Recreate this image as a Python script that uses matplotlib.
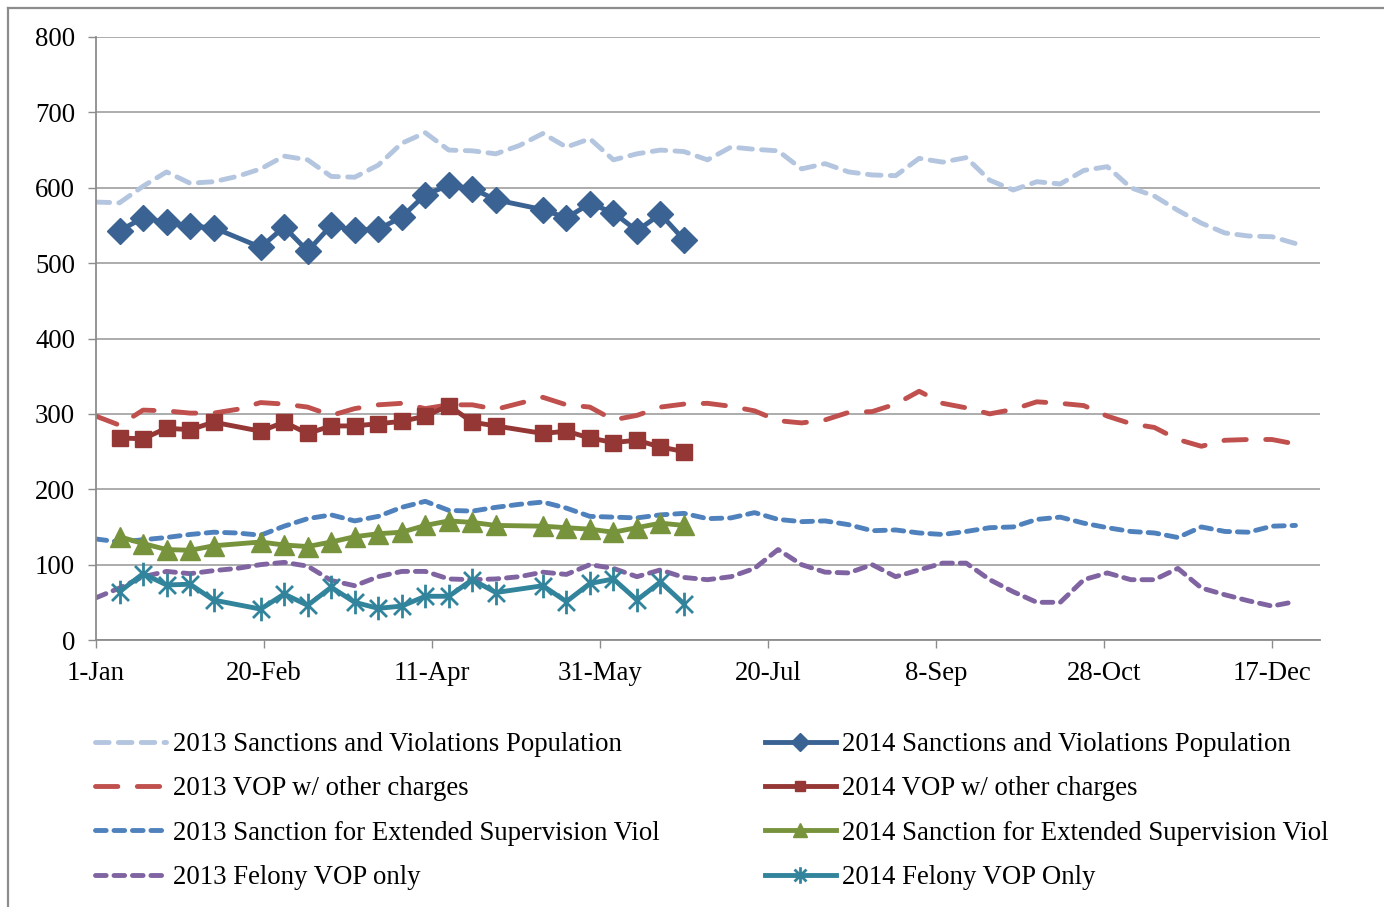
import matplotlib
matplotlib.use("Agg")
import matplotlib.pyplot as plt
from matplotlib.lines import Line2D
from matplotlib.path import Path

plt.rcParams["font.family"] = ["Liberation Serif", "DejaVu Serif"]

# day of year (0 = 1-Jan)
days_2013 = [7 * k for k in range(52)]
days_2014 = [7, 14, 21, 28, 35, 49, 56, 63, 70, 77, 84, 91, 98, 105, 112, 119,
             133, 140, 147, 154, 161, 168, 175]

pop_2013 = [581, 580, 602, 621, 606, 608, 615, 625, 642, 637, 615, 614, 630, 659,
            673, 650, 649, 645, 656, 672, 654, 665, 637, 645, 650, 648, 637,
            654, 651, 649, 625, 632, 621, 617, 616, 639, 634, 640, 610,
            597, 608, 605, 623, 628, 600, 589, 570, 553, 540, 536, 535, 526]
vop_2013 = [297, 285, 305, 304, 301, 301, 306, 315, 313, 309, 298, 307, 312, 314,
            307, 312, 312, 306, 314, 322, 312, 309, 292, 298, 309, 313,
            314, 310, 304, 291, 288, 292, 302, 303, 313, 330, 314, 308, 300,
            306, 316, 314, 311, 297, 287, 282, 266, 257, 265, 266, 266, 260]
ext_2013 = [134, 130, 133, 136, 140, 143, 142, 139, 151, 161, 166, 158, 164, 176,
            184, 172, 171, 176, 180, 183, 175, 164, 163, 162, 166, 168,
            161, 162, 169, 160, 157, 158, 153, 145, 146, 142, 140, 144, 149,
            150, 160, 163, 155, 149, 144, 142, 136, 150, 144, 143, 151, 152]
fel_2013 = [56, 69, 84, 91, 88, 92, 95, 100, 103, 98, 79, 72, 84, 91,
            91, 81, 80, 81, 84, 90, 87, 100, 95, 84, 93, 83,
            80, 84, 95, 120, 100, 90, 89, 100, 84, 93, 102, 102, 80,
            64, 50, 50, 80, 89, 80, 80, 95, 69, 60, 52, 45, 51]

pop_2014 = [543, 560, 554, 549, 547, 521, 548, 516, 550, 544, 545, 561,
            591, 603, 599, 584, 571, 560, 579, 567, 543, 565, 531]
vop_2014 = [268, 267, 281, 279, 289, 277, 289, 274, 284, 284, 287, 290,
            297, 311, 289, 284, 274, 277, 268, 262, 265, 256, 250]
ext_2014 = [137, 128, 120, 119, 125, 130, 126, 124, 130, 137, 141, 143,
            152, 158, 156, 152, 151, 149, 147, 143, 149, 155, 152]
fel_2014 = [64, 88, 73, 74, 53, 41, 61, 46, 70, 50, 42, 45,
            58, 58, 80, 63, 72, 51, 75, 81, 53, 77, 48]

tick_days = [0, 50, 100, 150, 200, 250, 300, 350]
tick_labels = ["1-Jan", "20-Feb", "11-Apr", "31-May", "20-Jul", "8-Sep", "28-Oct", "17-Dec"]

labels_2013 = ["2013 Sanctions and Violations Population", "2013 VOP w/ other charges",
               "2013 Sanction for Extended Supervision Viol", "2013 Felony VOP only"]
labels_2014 = ["2014 Sanctions and Violations Population", "2014 VOP w/ other charges",
               "2014 Sanction for Extended Supervision Viol", "2014 Felony VOP Only"]

W, H = 1384, 907
FS = 19.3
fig = plt.figure(figsize=(W / 100, H / 100), dpi=100)
ax = fig.add_axes([96 / W, 1 - 640 / H, (1320 - 96) / W, (640 - 37) / H])

# outer chart frame (top and left edges visible)
fig.add_artist(Line2D([8 / W, 1], [1 - 8 / H, 1 - 8 / H], color="#8c8c8c", lw=1.6,
                      transform=fig.transFigure))
fig.add_artist(Line2D([8 / W, 8 / W], [0, 1 - 8 / H], color="#8c8c8c", lw=1.6,
                      transform=fig.transFigure))

star = Path([(0, -1), (0, 1), (-0.72, -0.72), (0.72, 0.72), (-0.72, 0.72), (0.72, -0.72)],
            [Path.MOVETO, Path.LINETO, Path.MOVETO, Path.LINETO, Path.MOVETO, Path.LINETO])

lw = 3.5
dash_common = dict(lw=lw, dash_capstyle="round", solid_capstyle="round")
l1, = ax.plot(days_2013, pop_2013, color="#b4c5df", dashes=(2.8, 1.9), **dash_common)
l2, = ax.plot(days_2013, vop_2013, color="#c0504d", dashes=(4.6, 4.0), **dash_common)
l3, = ax.plot(days_2013, ext_2013, color="#4f81bd", dashes=(2.2, 1.6), **dash_common)
l4, = ax.plot(days_2013, fel_2013, color="#8064a2", dashes=(2.2, 1.6), **dash_common)

m1, = ax.plot(days_2014, pop_2014, color="#3a6394", lw=lw, marker="D", markersize=13)
m2, = ax.plot(days_2014, vop_2014, color="#953735", lw=lw, marker="s", markersize=11)
m3, = ax.plot(days_2014, ext_2014, color="#77933c", lw=lw, marker="^", markersize=15)
m4, = ax.plot(days_2014, fel_2014, color="#31849b", lw=lw, marker=star, markersize=17,
              markerfacecolor="none", markeredgewidth=2.0)

ax.set_xlim(0, 364.3)
ax.set_ylim(0, 800)
ax.set_xticks(tick_days)
ax.set_xticklabels(tick_labels)
ax.set_yticks(range(0, 801, 100))
ax.tick_params(axis="both", direction="out", length=6, width=1, color="#8c8c8c",
               labelsize=FS, pad=9)
ax.yaxis.grid(True, color="#a6a6a6", lw=1.3)
ax.set_axisbelow(True)
for side in ("top", "right"):
    ax.spines[side].set_visible(False)
for side in ("left", "bottom"):
    ax.spines[side].set_color("#8c8c8c")
    ax.spines[side].set_linewidth(1.3)

leg = fig.legend([l1, l2, l3, l4, m1, m2, m3, m4], labels_2013 + labels_2014,
                 ncol=2, loc="upper left", bbox_to_anchor=(95 / W, 1 - 732 / H),
                 frameon=False, fontsize=FS, handlelength=2.65, handletextpad=0.25,
                 columnspacing=3.93, labelspacing=0.72, borderpad=0, borderaxespad=0,
                 markerscale=0.7)

fig.savefig("out.png", dpi=100)
